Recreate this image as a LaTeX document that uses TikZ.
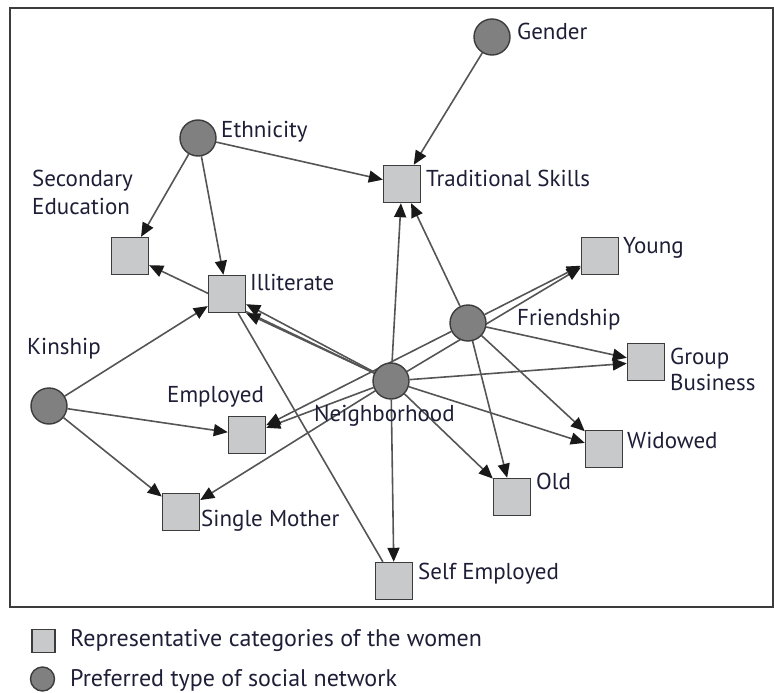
\documentclass[tikz,border=0pt]{standalone}
\usepackage{fontspec}
\setmainfont{PT Sans}
\usetikzlibrary{arrows.meta,backgrounds}
\definecolor{txt}{RGB}{30,30,55}
\definecolor{sqfill}{RGB}{200,201,203}
\definecolor{cifill}{RGB}{128,128,128}
\definecolor{bord}{RGB}{60,60,60}
\definecolor{edgec}{RGB}{85,85,85}
\tikzset{
  sq/.style={draw=bord,fill=sqfill,line width=1.4pt,minimum size=37pt,inner sep=0pt,shape=rectangle},
  ci/.style={draw=bord,fill=cifill,line width=1.4pt,minimum size=36pt,inner sep=0pt,shape=circle},
  lab/.style={anchor=west,text=txt,inner sep=0pt,font=\fontsize{23}{27}\selectfont,align=left},
  arr/.style={draw=edgec,line width=1.6pt,-{Triangle[length=14pt,width=12pt,fill=black!90,color=black!90]}},
  plain/.style={draw=edgec,line width=1.6pt}
}
\begin{document}
\begin{tikzpicture}[x=1pt,y=-1pt]
\useasboundingbox (0,0) rectangle (774,693);
\draw[bord,line width=1.4pt] (10,8) rectangle (773,607);
% nodes
\node[ci] (gen) at (492,37) {};
\node[ci] (eth) at (198,138) {};
\node[sq] (trad) at (402,184) {};
\node[sq] (sec) at (130,256) {};
\node[sq] (ill) at (227,294) {};
\node[sq] (young) at (600,256) {};
\node[ci] (fri) at (468,323) {};
\node[ci] (kin) at (49,406) {};
\node[ci] (nei) at (391,381) {};
\node[sq] (grp) at (646,362) {};
\node[sq] (emp) at (247,435) {};
\node[sq] (wid) at (604,449) {};
\node[sq] (old) at (512,497) {};
\node[sq] (sm) at (181,512) {};
\node[sq] (self) at (394,581) {};
% labels
\node[lab] (lgen) at (517,31) {Gender};
\node[lab] (leth) at (221,132) {Ethnicity};
\node[lab] (ltrad) at (426,178) {Traditional Skills};
\node[lab,font=\fontsize{23}{28}\selectfont] (lsec) at (32,192) {Secondary\\Education};
\node[lab] (lill) at (250,282) {Illiterate};
\node[lab] (lyoung) at (623,248) {Young};
\node[lab] (lfri) at (517,320) {Friendship};
\node[lab] (lkin) at (27,349) {Kinship};
\node[lab] (lemp) at (167,397) {Employed};
\node[lab] (lnei) at (314,416) {Neighborhood};
\node[lab,font=\fontsize{23}{26}\selectfont] (lgrp) at (670,369) {Group\\Business};
\node[lab] (lwid) at (627,440) {Widowed};
\node[lab] (lold) at (536,481) {Old};
\node[lab] (lsm) at (201,521) {Single Mother};
\node[lab] (lself) at (418,574) {Self Employed};
% legend
\node[sq,minimum size=23pt] (lsq) at (43.5,641) {};
\node[ci,minimum size=24pt] (lci) at (42.5,679) {};
\node[lab,font=\fontsize{24}{28}\selectfont] (tsq) at (70,641) {Representative categories of the women};
\node[lab,font=\fontsize{24}{28}\selectfont] (tci) at (70,680) {Preferred type of social network};
% edges
\begin{scope}[on background layer]
\draw[arr] (gen) -- (trad);
\draw[arr] (eth) -- (trad);
\draw[arr] (eth) -- (sec);
\draw[arr] (eth) -- (ill);
\draw[arr] (kin) -- (ill);
\draw[arr] (kin) -- (emp);
\draw[arr] (kin) -- (sm);
\draw[arr] (nei) -- (sec);
\draw[arr] (nei) -- (ill);
\draw[arr] (nei) -- (ill.south east);
\draw[plain] (ill) -- (self);
\draw[arr] (nei) -- (trad);
\draw[arr] (fri) -- (trad);
\draw[arr] (nei) -- (young);
\draw[arr] (fri) -- (young);
\draw[arr] (nei) -- (emp);
\draw[arr] (fri) -- (emp);
\draw[arr] (nei) -- (sm);
\draw[arr] (nei) -- (grp);
\draw[arr] (fri) -- (grp);
\draw[arr] (nei) -- (wid);
\draw[arr] (fri) -- (wid);
\draw[arr] (nei) -- (old);
\draw[arr] (fri) -- (old);
\draw[arr] (nei) -- (self);
\end{scope}
\end{tikzpicture}
\end{document}
